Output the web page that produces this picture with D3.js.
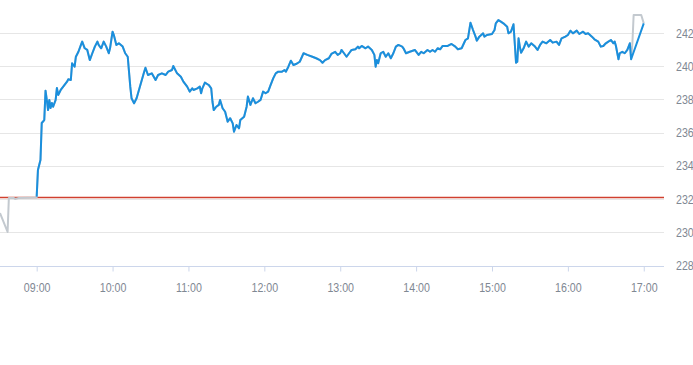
<!DOCTYPE html>
<html>
<head>
<script src="https://d3js.org/d3.v7.min.js"></script>
<style>
body {
  margin: 0;
  background: #fff;
  font-family: "Liberation Sans", Arial, sans-serif;
}
</style>
</head>
<body>
<div id="chart"></div>
<script>
// previous close (red reference line)
const prevClose = 232.1;

// y tick values
const yTicks = [228, 230, 232, 234, 236, 238, 240, 242];

// x tick labels
const xTicks = ["09:00", "10:00", "11:00", "12:00", "13:00", "14:00", "15:00", "16:00", "17:00"];

// pre-market trades (gray)
const preTimes  = ["08:31", "08:37", "08:38", "08:42", "08:43", "08:46", "09:00"];
const prePrices = [231.16, 230.02, 232.07, 232.07, 232.0, 232.07, 232.1];

// regular session, minutes after 09:00 and price (blue)
const sessionMinutes = [
  0, 1, 3, 4, 6, 7, 8, 9, 10, 11, 12, 13, 15, 16, 17, 19, 21, 24, 25, 27,
  28, 30, 31, 33, 35, 36, 38, 40, 41, 42, 44, 46, 48, 49, 51, 53, 55, 57, 58, 60,
  61, 63, 65, 68, 70, 72, 74, 75, 77, 79, 82, 85, 86, 88, 91, 94, 96, 99, 102, 104,
  107, 108, 111, 114, 116, 119, 121, 123, 124, 127, 129, 130, 131, 133, 136, 138, 139, 140, 142, 144,
  145, 147, 149, 151, 153, 155, 156, 158, 160, 161, 164, 166, 167, 169, 171, 173, 175, 177, 179, 181,
  183, 185, 187, 189, 191, 194, 196, 197, 199, 201, 203, 205, 208, 211, 214, 218, 221, 224, 226, 228,
  231, 233, 236, 238, 240, 241, 243, 245, 247, 249, 252, 254, 255, 257, 260, 262, 265, 267, 268, 269,
  270, 272, 274, 276, 278, 280, 282, 284, 286, 289, 290, 292, 295, 299, 302, 304, 306, 309, 311, 313,
  315, 317, 319, 321, 325, 328, 331, 333, 336, 339, 341, 343, 345, 347, 348, 350, 353, 354, 356, 360,
  362, 363, 365, 367, 369, 372, 373, 375, 377, 378, 379, 380, 381, 382, 383, 385, 387, 389, 391, 394,
  396, 398, 400, 403, 406, 408, 411, 413, 415, 418, 420, 422, 424, 427, 429, 432, 434, 436, 439, 441,
  444, 446, 448, 450, 452, 454, 456, 457, 458, 460, 461, 463, 465, 467, 469, 470, 480
];
const sessionPrices = [
  232.15, 233.75, 234.35, 236.58, 236.76, 238.53, 237.97, 237.36, 237.97, 237.48, 237.79, 237.56, 237.97, 238.69, 238.27, 238.57, 238.77, 239.07, 239.21, 239.17,
  240.18, 239.97, 240.57, 240.87, 241.28, 241.48, 241.08, 240.98, 240.68, 240.37, 240.78, 241.18, 241.48, 241.28, 241.08, 241.48, 241.18, 240.78, 241.08, 242.08,
  241.88, 241.28, 241.38, 241.18, 240.78, 240.57, 238.77, 238.07, 237.77, 238.07, 238.87, 239.67, 239.91, 239.47, 239.57, 239.17, 239.47, 239.57, 239.47, 239.67,
  239.77, 240.01, 239.57, 239.37, 239.07, 238.77, 238.47, 238.67, 238.57, 238.67, 238.77, 238.37, 238.67, 239.01, 238.87, 238.67, 237.86, 237.36, 237.56, 237.67,
  237.97, 237.47, 237.26, 236.66, 236.87, 236.56, 236.06, 236.46, 236.26, 236.76, 236.96, 237.56, 238.17, 237.67, 238.07, 237.77, 237.86, 237.97, 238.47, 238.37,
  238.47, 238.87, 239.27, 239.57, 239.67, 239.67, 239.77, 239.67, 239.97, 240.33, 240.07, 240.13, 240.27, 240.78, 240.68, 240.57, 240.48, 240.37, 240.21, 240.37,
  240.48, 240.74, 240.87, 240.68, 240.78, 240.98, 240.78, 240.57, 240.78, 240.98, 241.02, 241.18, 241.08, 241.22, 241.08, 241.18, 240.98, 240.68, 239.97, 240.37,
  240.18, 240.78, 240.87, 240.57, 240.78, 240.48, 240.78, 241.18, 241.28, 241.18, 241.08, 240.78, 240.87, 240.98, 240.68, 240.87, 240.78, 240.98, 240.87, 240.98,
  240.87, 241.08, 241.02, 241.22, 241.22, 241.34, 241.18, 241.02, 241.08, 241.58, 241.68, 242.62, 242.18, 241.78, 241.54, 241.78, 241.98, 241.78, 241.88, 241.94,
  242.18, 242.58, 242.78, 242.68, 242.58, 242.38, 241.98, 242.08, 242.53, 241.38, 240.21, 240.27, 241.68, 241.18, 240.81, 241.08, 241.48, 241.18, 241.38, 241.18,
  240.98, 241.28, 241.48, 241.38, 241.58, 241.42, 241.48, 241.28, 241.68, 241.78, 241.88, 242.14, 241.98, 242.14, 241.94, 242.08, 241.94, 241.98, 241.78, 241.62,
  241.48, 241.18, 241.22, 241.38, 241.48, 241.58, 241.38, 241.48, 241.22, 240.42, 240.78, 240.87, 240.78, 240.98, 241.38, 240.42, 242.58
];

// after-hours trades (gray), minutes after 09:00
const postMinutes = [470, 471, 472, 478, 480];
const postPrices  = [240.42, 241.38, 243.08, 243.08, 242.58];

const width = 693;
const height = 365;
const labelColor = "#7f8893";
const narrow = 0.82; // condensed look for the labels

const parse = d3.timeParse("%H:%M");
const t0 = parse("09:00");
const atMin = m => new Date(t0.getTime() + m * 60000);

const pre = preTimes.map((t, i) => ({ date: parse(t), price: prePrices[i] }));
const session = sessionMinutes.map((m, i) => ({ date: atMin(m), price: sessionPrices[i] }));
const post = postMinutes.map((m, i) => ({ date: atMin(m), price: postPrices[i] }));
// gray line runs under the whole day, blue sits on top
const full = pre.concat(session.filter(d => d.date < atMin(470)), post);

const x = d3.scaleTime()
  .domain([parse("08:31"), parse("17:16")])
  .range([0, 664]);

const y = d3.scaleLinear()
  .domain([228, 242])
  .range([265.5, 33]);

const line = d3.line()
  .x(d => x(d.date))
  .y(d => y(d.price));

const svg = d3.create("svg")
  .attr("width", width)
  .attr("height", height)
  .attr("viewBox", [0, 0, width, height]);

// horizontal grid
svg.append("g")
  .selectAll("line")
  .data(yTicks.slice(1))
  .join("line")
    .attr("x1", 0)
    .attr("x2", 664)
    .attr("y1", d => Math.round(y(d)) + 0.5)
    .attr("y2", d => Math.round(y(d)) + 0.5)
    .attr("stroke", "#e6e6e6");

// y labels on the right
svg.append("g")
  .selectAll("text")
  .data(yTicks)
  .join("text")
    .attr("transform", d => `translate(676,${y(d)}) scale(${narrow},1)`)
    .attr("dy", "0.35em")
    .attr("fill", labelColor)
    .attr("font-size", 13)
    .text(d => d);

// x axis
const xAxis = svg.append("g")
  .attr("transform", `translate(0,${Math.round(y(228)) + 0.5})`)
  .call(d3.axisBottom(x)
    .tickValues(xTicks.map(parse))
    .tickFormat(d3.timeFormat("%H:%M"))
    .tickSize(5)
    .tickPadding(11)
    .tickSizeOuter(0));
xAxis.select(".domain").attr("stroke", "#ccd6eb").attr("d", "M0,0H664");
xAxis.selectAll(".tick line").attr("stroke", "#ccd6eb");
xAxis.selectAll(".tick text")
  .attr("fill", labelColor)
  .attr("font-size", 13)
  .attr("font-family", null)
  .attr("transform", `scale(${narrow},1)`);

// previous close
svg.append("line")
  .attr("x1", 0)
  .attr("x2", 664)
  .attr("y1", y(prevClose))
  .attr("y2", y(prevClose))
  .attr("stroke", "#d0402f")
  .attr("stroke-width", 1.5);

svg.append("path")
  .datum(full)
  .attr("fill", "none")
  .attr("stroke", "#c3c9cf")
  .attr("stroke-width", 2)
  .attr("stroke-linejoin", "round")
  .attr("d", line);

svg.append("path")
  .datum(session)
  .attr("fill", "none")
  .attr("stroke", "#1a8fdd")
  .attr("stroke-width", 2)
  .attr("stroke-linejoin", "round")
  .attr("d", line);

document.getElementById("chart").appendChild(svg.node());
</script>
</body>
</html>
